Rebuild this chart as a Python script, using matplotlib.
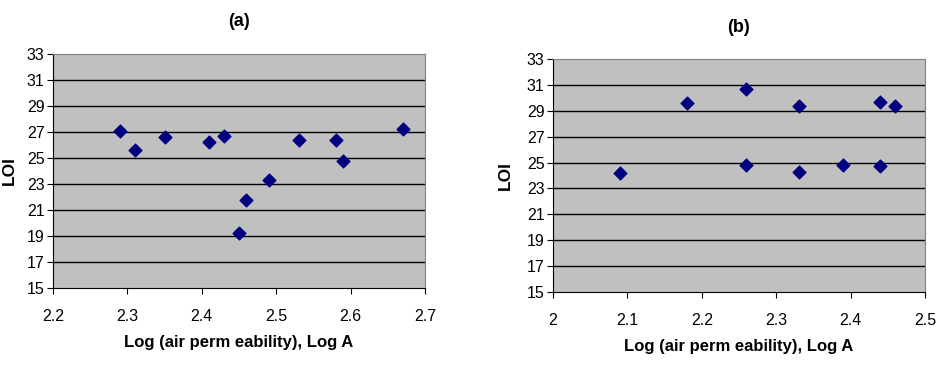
import matplotlib
matplotlib.use('Agg')
import matplotlib.pyplot as plt

plt.rcParams['font.family'] = ['Liberation Sans', 'DejaVu Sans']

# panel (a)
xa = [2.29, 2.31, 2.35, 2.41, 2.43, 2.45, 2.46, 2.49, 2.53, 2.58, 2.59, 2.67]
ya = [27.1, 25.6, 26.6, 26.2, 26.7, 19.2, 21.8, 23.3, 26.4, 26.4, 24.8, 27.2]
xticks_a = [2.2, 2.3, 2.4, 2.5, 2.6, 2.7]

# panel (b)
xb = [2.09, 2.18, 2.26, 2.26, 2.33, 2.33, 2.39, 2.44, 2.44, 2.46]
yb = [24.2, 29.6, 30.7, 24.8, 29.4, 24.3, 24.8, 29.7, 24.7, 29.4]
xticks_b = [2.0, 2.1, 2.2, 2.3, 2.4, 2.5]
xticklabels_b = ['2', '2.1', '2.2', '2.3', '2.4', '2.5']

yticks = [15, 17, 19, 21, 23, 25, 27, 29, 31, 33]

fig = plt.figure(figsize=(9.48, 3.72), dpi=100)
W, H = 948.0, 372.0

def panel(rect, x, y, xt, xtl, title, ylab_x, title_y, xlab_y):
    l, t, r, b = rect
    ax = fig.add_axes([l/W, 1-b/H, (r-l)/W, (b-t)/H])
    ax.set_facecolor('#C0C0C0')
    for yy in yticks[1:-1]:
        ax.axhline(yy, color='black', lw=1.0, zorder=1)
    ax.scatter(x, y, marker='D', s=42, color='#000080', zorder=3)
    ax.set_xlim(xt[0], xt[-1])
    ax.set_ylim(15, 33)
    ax.set_xticks(xt)
    ax.set_xticklabels(xtl, fontsize=11.5)
    ax.set_yticks(yticks)
    ax.set_yticklabels([str(v) for v in yticks], fontsize=11.5)
    ax.tick_params(direction='out', length=4, width=0.8, pad=2)
    ax.tick_params(axis='x', pad=11)
    for s in ['top', 'right']:
        ax.spines[s].set_color('#808080')
    for s in ['left', 'bottom']:
        ax.spines[s].set_color('black')
    cx = (l + r) / 2.0
    fig.text(cx/W, 1-title_y/H, title, ha='center', va='center', fontsize=13, fontweight='bold')
    fig.text(cx/W, 1-xlab_y/H, 'Log (air perm eability), Log A', ha='center', va='center', fontsize=12, fontweight='bold')
    fig.text(ylab_x/W, 1-(t+b)/2.0/H, 'LOI', ha='center', va='center', rotation=90, fontsize=12.5, fontweight='bold')
    return ax

panel((53, 54, 425, 288), xa, ya, xticks_a, [str(v) for v in xticks_a], '(a)', 9, 22, 343)
panel((553, 59, 925, 292), xb, yb, xticks_b, xticklabels_b, '(b)', 505, 27, 347)

plt.savefig('out.png', dpi=100)
